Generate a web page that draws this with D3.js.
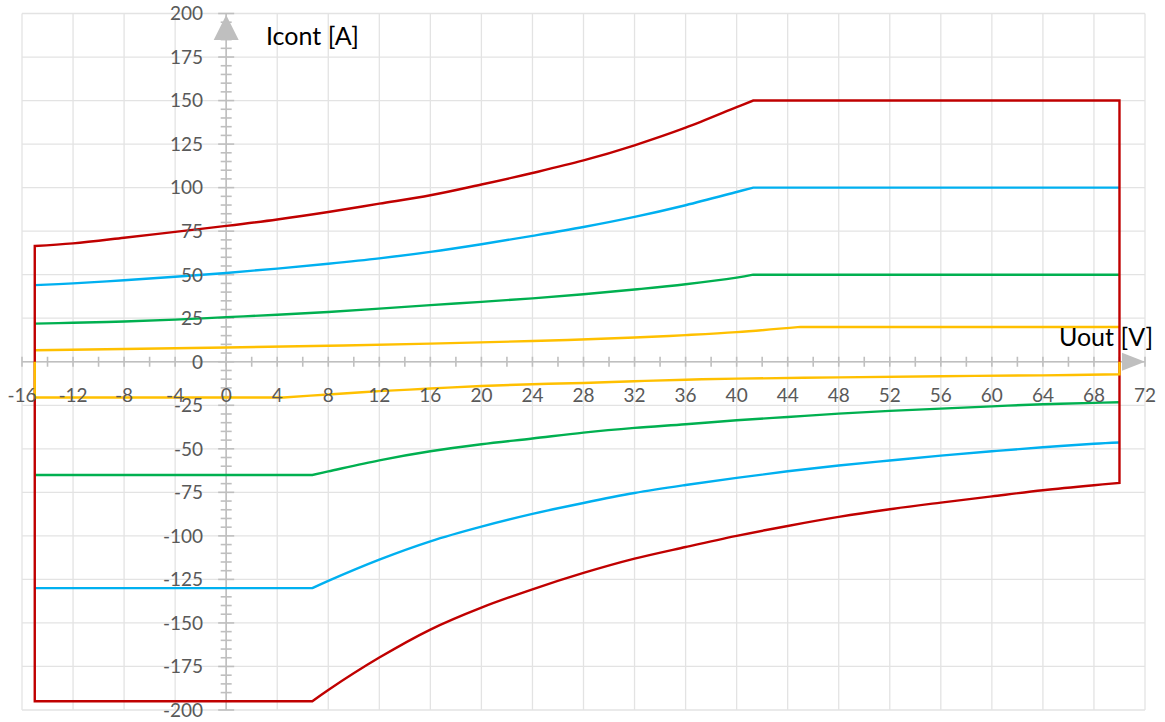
<!DOCTYPE html>
<html><head><meta charset="utf-8">
<script src="https://cdn.jsdelivr.net/npm/d3@7"></script>
<style>
html,body{margin:0;padding:0;background:#fff;}
svg{display:block;}
text{font-family:Lato,"Open Sans",sans-serif;}
</style></head>
<body>
<svg id="chart" width="1165" height="722"></svg>
<script>
// ---- data ----
const xTicks = [-16,-12,-8,-4,0,4,8,12,16,20,24,28,32,36,40,44,48,52,56,60,64,68,72];
const yTicks = [-200,-175,-150,-125,-100,-75,-50,-25,0,25,50,75,100,125,150,175,200];

// upper (positive current) limits; last point is the flat end at 70 V
const xTop = [-15,-12,-8,-4,0,4,8,12,16,20,24,28,32,36,40,41.3,70];
const redTop   = [66.5,68,71.2,74.6,78,81.7,86,90.8,95.6,101.8,108.4,115.6,124.3,134.4,146.2,150,150];
const blueTop  = [44,45,46.8,48.8,51,53.5,56.3,59.4,63.1,67.5,72.3,77.4,83.2,89.9,97.5,100,100];
const greenTop = [21.9,22.4,23.1,24.2,25.6,27.0,28.6,30.5,32.5,34.4,36.4,38.8,41.5,44.5,48.3,50,50];

const xYellowTop = [-15,-8,0,8,16,24,32,36,40,45,70];
const yellowTop  = [6.6,7.3,8.2,9.2,10.4,11.9,13.9,15.3,17.0,20,20];

// lower (negative current) limits; first two points are the flat start
const xBot = [-15,6.75,8,12,16,20,24,28,32,36,40,44,48,52,56,60,64,68,70];
const redBot   = [-195,-195,-188.5,-169.9,-153.8,-141.2,-130.7,-121.3,-113.1,-106.4,-100.0,-94.3,-89.1,-84.7,-80.9,-77.3,-73.8,-70.9,-69.6];
const blueBot  = [-130,-130,-125.8,-113.6,-103.1,-94.7,-87.4,-81.1,-75.4,-70.8,-66.7,-62.9,-59.6,-56.7,-53.9,-51.4,-49.1,-47.1,-46.4];
const greenBot = [-65,-65,-63.0,-56.6,-51.4,-47.4,-44.1,-40.7,-38.0,-35.9,-33.6,-31.7,-29.8,-28.2,-26.9,-25.6,-24.4,-23.6,-23.3];

const xYellowBot = [-15,-15,4.5,8,12,16,20,24,28,32,36,40,48,56,64,70,70];
const yellowBot  = [0,-20.5,-20.5,-18.8,-16.9,-15.4,-13.9,-12.9,-12.2,-11.2,-10.3,-9.7,-9.0,-8.3,-7.8,-7.2,0];

const COLORS = {red:"#C00000", blue:"#00B0F0", green:"#00B050", yellow:"#FFC000"};

// ---- chart ----
const svg = d3.select("#chart");
const x = d3.scaleLinear().domain([-16,72]).range([22,1145]);
const y = d3.scaleLinear().domain([-200,200]).range([710,13.5]);

const zip = (xs, ys) => xs.map((v,i)=>[v, ys[i]]);
const lin = d3.line().x(d=>x(d[0])).y(d=>y(d[1]));
const smooth = d3.line().x(d=>x(d[0])).y(d=>y(d[1])).curve(d3.curveCatmullRom.alpha(0.5));
const cont = s => "L" + s.slice(1); // continue a path instead of moving

// build path: pts split into linear head (nHead points), smooth middle, linear tail (nTail points)
function pathOf(pts, nHead, nTail) {
  const mid = pts.slice(Math.max(nHead-1,0), pts.length - Math.max(nTail-1,0));
  let d = nHead > 1 ? lin(pts.slice(0,nHead)) + cont(smooth(mid)) : smooth(mid);
  if (nTail > 1) d += cont(lin(pts.slice(pts.length-nTail)));
  return d;
}

// grid
const grid = svg.append("g");
grid.selectAll("line.v").data(xTicks).join("line")
  .attr("x1",d=>x(d)).attr("x2",d=>x(d)).attr("y1",y(200)).attr("y2",y(-200))
  .attr("stroke","#E3E3E3").attr("stroke-width",1.3);
grid.selectAll("line.h").data(yTicks).join("line")
  .attr("y1",d=>y(d)).attr("y2",d=>y(d)).attr("x1",x(-16)).attr("x2",x(72))
  .attr("stroke","#E3E3E3").attr("stroke-width",1.3);

// axes
const axCol = "#BFBFBF";
const ax = svg.append("g");
ax.append("line").attr("x1",x(-16)).attr("x2",x(72)).attr("y1",y(0)).attr("y2",y(0))
  .attr("stroke",axCol).attr("stroke-width",1.6);
ax.append("line").attr("x1",x(0)).attr("x2",x(0)).attr("y1",y(-200)).attr("y2",y(200))
  .attr("stroke",axCol).attr("stroke-width",1.6);
const xMinor = d3.range(-16,72.01,2);
ax.selectAll("line.xt").data(xMinor).join("line")
  .attr("x1",d=>x(d)).attr("x2",d=>x(d)).attr("y1",y(0)-5).attr("y2",y(0)+5)
  .attr("stroke",axCol).attr("stroke-width",1.6);
const yMinor = d3.range(-200,200.01,5);
ax.selectAll("line.yt").data(yMinor).join("line")
  .attr("y1",d=>y(d)).attr("y2",d=>y(d))
  .attr("x1",d=> x(0) - (d%25===0?8:5.5)).attr("x2",d=> x(0) + (d%25===0?8:5.5))
  .attr("stroke",axCol).attr("stroke-width",1.6);
ax.append("path").attr("fill",axCol)
  .attr("d",`M${x(0)},${y(200)+1.5} L${x(0)-12.5},${y(200)+26.5} L${x(0)+12.5},${y(200)+26.5} Z`);
ax.append("path").attr("fill",axCol)
  .attr("d",`M${x(72)},${y(0)} L${x(72)-23},${y(0)-9} L${x(72)-23},${y(0)+9} Z`);

// series
const sg = svg.append("g").attr("fill","none").attr("stroke-width",2.4)
  .attr("stroke-linejoin","miter").attr("stroke-linecap","butt");
sg.append("path").attr("d",pathOf(zip(xYellowTop,yellowTop),0,2)).attr("stroke",COLORS.yellow);
sg.append("path").attr("d",pathOf(zip(xTop,greenTop),0,2)).attr("stroke",COLORS.green);
sg.append("path").attr("d",pathOf(zip(xBot,greenBot),2,0)).attr("stroke",COLORS.green);
sg.append("path").attr("d",pathOf(zip(xTop,blueTop),0,2)).attr("stroke",COLORS.blue);
sg.append("path").attr("d",pathOf(zip(xBot,blueBot),2,0)).attr("stroke",COLORS.blue);
// red: closed envelope
const redTopPts = zip(xTop,redTop);
const redBotRev = zip(xBot,redBot).reverse();
const redD = lin([[-15, redBot[0]], redTopPts[0]])
  + cont(pathOf(redTopPts,0,2))
  + cont(pathOf(redBotRev,0,2)) + "Z";
sg.append("path").attr("d",redD).attr("stroke",COLORS.red);
sg.append("path").attr("d",pathOf(zip(xYellowBot,yellowBot),3,2)).attr("stroke",COLORS.yellow);

// tick labels
const lab = svg.append("g").attr("fill","#595959").attr("font-size","19px");
lab.selectAll("text.x").data(xTicks).join("text")
  .attr("x",d=>x(d)).attr("y",401.5).attr("text-anchor","middle").text(d=>d);
lab.selectAll("text.y").data(yTicks).join("text")
  .attr("x",203).attr("y",d=>y(d)).attr("dy","0.36em").attr("text-anchor","end").text(d=>d);

// axis titles
svg.append("text").attr("x",266).attr("y",44.5).attr("font-size","25px").attr("fill","#000").text("Icont [A]");
svg.append("text").attr("x",1059).attr("y",346).attr("font-size","25px").attr("fill","#000").text("Uout [V]");
</script>
</body></html>
